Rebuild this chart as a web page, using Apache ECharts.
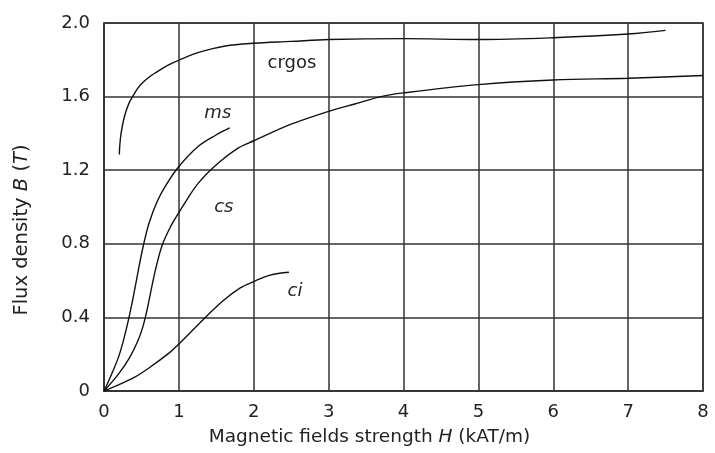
<!DOCTYPE html>
<html>
<head>
<meta charset="utf-8">
<script src="https://cdn.jsdelivr.net/npm/echarts@6/dist/echarts.min.js"></script>
<style>
html,body{margin:0;padding:0;background:#fff;}
#chart{width:715px;height:453px;}
</style>
</head>
<body>
<div id="chart"></div>
<script>
// Tick labels
var xTicks = [0, 1, 2, 3, 4, 5, 6, 7, 8];
var yTicks = ['0', '0.4', '0.8', '1.2', '1.6', '2.0'];

// crgos curve
var crgosH = [0.205, 0.21, 0.228, 0.26, 0.294, 0.34, 0.382, 0.45, 0.515, 0.6, 0.69, 0.85, 1.01, 1.265, 1.62, 1.99, 2.5, 3.0, 4.0, 5.0, 6.0, 7.0, 7.5];
var crgosB = [1.285, 1.33, 1.40, 1.47, 1.52, 1.57, 1.60, 1.645, 1.675, 1.705, 1.73, 1.77, 1.80, 1.84, 1.875, 1.89, 1.90, 1.91, 1.915, 1.91, 1.92, 1.94, 1.96];

// ms curve
var msH = [0, 0.10, 0.19, 0.25, 0.30, 0.35, 0.40, 0.46, 0.52, 0.60, 0.71, 0.83, 1.0, 1.26, 1.49, 1.68];
var msB = [0, 0.09, 0.18, 0.26, 0.34, 0.43, 0.53, 0.66, 0.78, 0.91, 1.03, 1.12, 1.22, 1.33, 1.39, 1.43];

// cs curve
var csH = [0, 0.19, 0.34, 0.45, 0.52, 0.58, 0.64, 0.70, 0.775, 0.885, 1.0, 1.1, 1.26, 1.53, 1.79, 2.0, 2.5, 3.0, 3.35, 3.7, 4.0, 5.0, 6.0, 7.0, 8.0];
var csB = [0, 0.09, 0.18, 0.27, 0.35, 0.45, 0.57, 0.68, 0.79, 0.89, 0.97, 1.035, 1.13, 1.24, 1.32, 1.36, 1.45, 1.52, 1.56, 1.60, 1.62, 1.665, 1.69, 1.70, 1.715];

// ci curve
var ciH = [0, 0.20, 0.41, 0.60, 0.88, 1.0, 1.33, 1.59, 1.82, 2.0, 2.22, 2.47];
var ciB = [0, 0.035, 0.075, 0.125, 0.21, 0.255, 0.39, 0.49, 0.56, 0.595, 0.63, 0.645];

// curve labels (names and data-space anchor points)
var labelNames = ['crgos', 'ms', 'cs', 'ci'];
var labelH = [2.51, 1.52, 1.60, 2.55];
var labelB = [1.78, 1.51, 1.00, 0.54];

function pairs(xs, ys) {
  return xs.map(function (x, i) { return [x, ys[i]]; });
}

var FONT = 'DejaVu Sans';
var TXT = '#222';
var GRIDC = '#333';

function curve(name, xs, ys) {
  return {
    name: name,
    type: 'line',
    data: pairs(xs, ys),
    smooth: 0.35,
    showSymbol: false,
    symbol: 'none',
    lineStyle: { color: '#111', width: 1.4 },
    silent: true,
    z: 3
  };
}

var labelData = labelNames.map(function (n, i) {
  return {
    name: n,
    value: [labelH[i], labelB[i]],
    label: { fontStyle: n === 'crgos' ? 'normal' : 'italic' }
  };
});

var chart = echarts.init(document.getElementById('chart'));
chart.setOption({
  animation: false,
  backgroundColor: '#fff',
  grid: {
    left: 104, right: 12, top: 23, bottom: 62,
    show: true, borderColor: GRIDC, borderWidth: 1.5, backgroundColor: 'transparent'
  },
  xAxis: {
    type: 'value',
    min: xTicks[0], max: xTicks[xTicks.length - 1], interval: 1,
    axisLine: { show: true, lineStyle: { color: GRIDC, width: 1.5 } },
    axisTick: { show: false },
    splitLine: { show: true, lineStyle: { color: GRIDC, width: 1.5 } },
    axisLabel: {
      color: TXT, fontFamily: FONT, fontSize: 18, margin: 12,
      formatter: function (v) { return String(v); }
    },
    name: 'Magnetic fields strength {i|H} (kAT/m)',
    nameLocation: 'middle',
    nameGap: 37,
    nameTextStyle: {
      color: TXT, fontFamily: FONT, fontSize: 18.5,
      padding: [0, 68, 0, 0],
      rich: { i: { fontStyle: 'italic', color: TXT, fontFamily: FONT, fontSize: 18.5 } }
    }
  },
  yAxis: {
    type: 'value',
    min: 0, max: 2, interval: 0.4,
    axisLine: { show: true, lineStyle: { color: GRIDC, width: 1.5 } },
    axisTick: { show: false },
    splitLine: { show: true, lineStyle: { color: GRIDC, width: 1.5 } },
    axisLabel: {
      color: TXT, fontFamily: FONT, fontSize: 18, margin: 14,
      formatter: function (v) {
        var idx = Math.round(v / 0.4);
        return yTicks[idx] !== undefined ? yTicks[idx] : String(v);
      }
    },
    name: 'Flux density {i|B} ({i|T})',
    nameLocation: 'middle',
    nameGap: 72,
    nameRotate: 90,
    nameTextStyle: {
      color: TXT, fontFamily: FONT, fontSize: 19.5,
      padding: [0, 46, 0, 0],
      rich: { i: { fontStyle: 'italic', color: TXT, fontFamily: FONT, fontSize: 19.5 } }
    }
  },
  series: [
    curve('crgos', crgosH, crgosB),
    curve('ms', msH, msB),
    curve('cs', csH, csB),
    curve('ci', ciH, ciB),
    {
      name: 'labels',
      type: 'scatter',
      symbolSize: 0,
      silent: true,
      itemStyle: { color: TXT, opacity: 1 },
      data: labelData,
      label: {
        show: true,
        position: 'inside',
        formatter: function (p) { return p.name; },
        color: TXT, fontFamily: FONT, fontSize: 18,
        textBorderWidth: 0, textBorderColor: 'transparent',
        opacity: 1
      },
      z: 4
    }
  ]
});
</script>
</body>
</html>
